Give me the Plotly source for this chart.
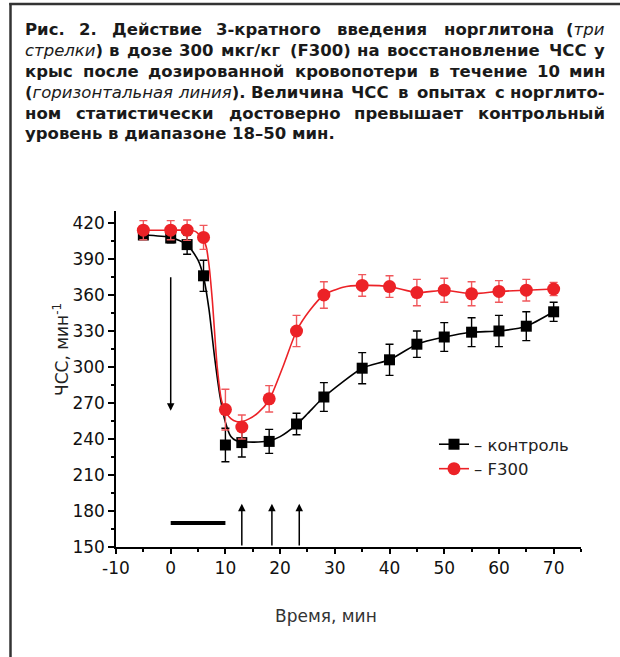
import plotly.graph_objects as go

# ---------------- data ----------------
time_min = [-5, 0, 3, 6, 10, 13, 18, 23, 28, 35, 40, 45, 50, 55, 60, 65, 70]
control_hr = [410, 407.5, 402, 376, 235, 237, 238, 252.5, 275, 299, 306, 319, 325, 329, 330, 334, 346]
control_sem = [3.5, 4, 8, 13, 14, 12, 10, 9, 12, 13, 13, 11, 12, 12, 13, 12, 8]
f300_hr = [414, 414, 414, 408, 264.5, 250, 273.5, 330, 360, 368, 367, 362, 364, 361, 363, 364, 365]
f300_sem = [8, 8, 8.5, 10, 17, 10, 11, 13, 11, 9, 9, 11, 10, 10, 9, 9, 5.5]

# fitted curves as drawn in the picture
fit_control_x = [-5, 0, 3, 5, 6, 7, 8, 9, 10, 11, 12, 14, 16, 18, 20, 23, 25, 28, 35, 40, 45, 50, 55, 60, 65, 70]
fit_control_y = [410, 408, 402, 389, 375, 348, 309, 276, 254, 242, 238.5, 237.5, 237.5, 238.5, 242, 252, 261, 275,
                 299, 306, 319, 325, 329, 330, 334, 346]
fit_f300_x = [-5, 0, 3, 4.5, 6, 6.5, 7, 7.6, 8.5, 9.3, 10.2, 11, 12, 13, 14.4, 16, 18, 20.5, 23, 25.4, 28, 31.5,
              35, 40, 45, 50, 55, 60, 65, 70]
fit_f300_y = [414, 414, 414, 413, 406, 400, 385, 356, 300, 272, 261.5, 257, 254.5, 254.5, 257, 262, 272.5, 300,
              330, 347, 360, 366.5, 368, 367, 362, 364, 361, 363, 364, 365]

injection_times = [13, 18.5, 23.5]          # three arrows (norglitone injections)
blood_loss_interval = [0, 10]               # horizontal line (dosed blood loss)
blood_loss_arrow = [376, 263.5]             # downward arrow at t = 0 (from, to)

x_tick_vals = [-10, 0, 10, 20, 30, 40, 50, 60, 70]
x_tick_labels = ["-10", "0", "10", "20", "30", "40", "50", "60", "70"]
y_tick_vals = [150, 180, 210, 240, 270, 300, 330, 360, 390, 420]

series_names = ["– контроль", "– F300"]

# ---------------- layout geometry ----------------
W, H = 620, 657
ML, MR, MT, MB = 116, 39, 211, 110
PW = W - ML - MR
PH = H - MT - MB


def px(xp):
    return (xp - ML) / PW


def py(yp):
    return (H - MB - yp) / PH


RED = "#ec2227"
RED_ERR = "#f0585c"
FONT = "DejaVu Sans"

fig = go.Figure()

fig.add_trace(go.Scatter(x=fit_control_x, y=fit_control_y, mode="lines",
                         line=dict(color="black", width=1.6, shape="spline", smoothing=0.6),
                         showlegend=False, hoverinfo="skip"))
fig.add_trace(go.Scatter(x=time_min, y=control_hr, mode="markers",
                         marker=dict(symbol="square", size=11, color="black"),
                         error_y=dict(type="data", array=control_sem, color="black", thickness=1.4, width=4),
                         showlegend=False))
fig.add_trace(go.Scatter(x=fit_f300_x, y=fit_f300_y, mode="lines",
                         line=dict(color=RED, width=1.6, shape="spline", smoothing=0.6),
                         showlegend=False, hoverinfo="skip"))
fig.add_trace(go.Scatter(x=time_min, y=f300_hr, mode="markers",
                         marker=dict(symbol="circle", size=13, color=RED),
                         error_y=dict(type="data", array=f300_sem, color=RED_ERR, thickness=1.4, width=4),
                         showlegend=False))

# legend-only traces
fig.add_trace(go.Scatter(x=[None], y=[None], mode="lines+markers", name=series_names[0],
                         line=dict(color="black", width=1.6), marker=dict(symbol="square", size=11, color="black")))
fig.add_trace(go.Scatter(x=[None], y=[None], mode="lines+markers", name=series_names[1],
                         line=dict(color=RED, width=1.6), marker=dict(symbol="circle", size=13, color=RED)))

annotations = []
# arrows
for t in injection_times:
    annotations.append(dict(x=t, y=186, ax=t, ay=150, xref="x", yref="y", axref="x", ayref="y",
                            showarrow=True, arrowhead=2, arrowsize=1, arrowwidth=1.5, arrowcolor="black", text=""))
annotations.append(dict(x=0, y=blood_loss_arrow[1], ax=0, ay=blood_loss_arrow[0], xref="x", yref="y",
                        axref="x", ayref="y", showarrow=True, arrowhead=2, arrowsize=1, arrowwidth=1.5,
                        arrowcolor="black", text=""))

# axis titles
annotations.append(dict(x=px(326), y=py(616), xref="paper", yref="paper", text="Время, мин", showarrow=False,
                        font=dict(family=FONT, size=17, color="#333"), xanchor="center", yanchor="middle"))
annotations.append(dict(x=px(61), y=py(350), xref="paper", yref="paper", text="ЧСС, мин<sup>-1</sup>",
                        showarrow=False, textangle=-90, font=dict(family=FONT, size=17, color="#222"),
                        xanchor="center", yanchor="middle"))

# ---------------- caption (justified) ----------------
BOLD_W = {'а': .675, 'б': .69, 'в': .69, 'г': .54, 'д': .75, 'е': .678, 'ж': 1.0, 'з': .60, 'и': .712, 'й': .712,
          'к': .70, 'л': .71, 'м': .87, 'н': .712, 'о': .687, 'п': .712, 'р': .716, 'с': .595, 'т': .60, 'у': .65,
          'ф': 1.0, 'х': .65, 'ц': .73, 'ч': .68, 'ш': 1.0, 'щ': 1.03, 'ы': .94, 'ь': .66, 'э': .6, 'ю': .98, 'я': .69,
          'Р': .733, 'Д': .82, 'Ч': .84, 'С': .78, 'В': .762, 'F': .632, ' ': .348, '.': .381, ',': .381, '-': .416,
          '(': .457, ')': .457, '/': .366, '–': .5}
REG_W = {'а': .613, 'г': .49, 'и': .634, 'з': .53, 'н': .634, 'т': .55, 'л': .63, 'я': .60, 'ь': .59, 'к': .579,
         'р': .635, 'с': .55, 'е': .615, 'о': .612, ' ': .318}

FS = 16.5


def seg_width(text, style):
    tbl = BOLD_W if style == 'b' else REG_W
    dflt = .69 if style == 'b' else .61
    return sum(tbl.get(ch, .696 if ch.isdigit() else dflt) for ch in text) * FS


def word_html(word):
    if isinstance(word, str):
        word = [(word, 'b')]
    html = ""
    w = 0
    for text, style in word:
        html += ("<b>%s</b>" % text) if style == 'b' else ("<i>%s</i>" % text)
        w += seg_width(text, style)
    return html, w


caption_lines = [
    ["Рис.", "2.", "Действие", "3-кратного", "введения", "норглитона", [("(", 'b'), ("три", 'i')]],
    [[("стрелки", 'i'), (")", 'b')], "в", "дозе", "300", "мкг/кг", "(F300)", "на", "восстановление", "ЧСС", "у"],
    ["крыс", "после", "дозированной", "кровопотери", "в", "течение", "10", "мин"],
    [[("(", 'b'), ("горизонтальная", 'i')], [("линия", 'i'), (").", 'b')], "Величина", "ЧСС", "в", "опытах", "с",
     "норглито-"],
    ["ном", "статистически", "достоверно", "превышает", "контрольный"],
]
caption_last = "уровень в диапазоне 18–50 мин."

TX_L, TX_R = 24, 606
line_y0, line_dy = 30, 20.8
for i, words in enumerate(caption_lines):
    items = [word_html(w) for w in words]
    total = sum(w for _, w in items)
    gap = (TX_R - TX_L - total) / (len(items) - 1)
    x = TX_L
    for k, (html, w) in enumerate(items):
        last = k == len(items) - 1
        annotations.append(dict(x=px(TX_R if last else x), y=py(line_y0 + i * line_dy), xref="paper",
                                yref="paper", text=html, showarrow=False,
                                xanchor="right" if last else "left", yanchor="middle", borderpad=0,
                                font=dict(family=FONT, size=FS, color="#1a1a1a")))
        x += w + gap
annotations.append(dict(x=px(TX_L), y=py(line_y0 + 5 * line_dy), xref="paper", yref="paper",
                        text="<b>%s</b>" % caption_last, showarrow=False, xanchor="left", yanchor="middle",
                        borderpad=0, font=dict(family=FONT, size=FS, color="#1a1a1a")))

shapes = [
    # blood-loss bar
    dict(type="line", xref="x", yref="y", x0=blood_loss_interval[0], x1=blood_loss_interval[1], y0=170, y1=170,
         line=dict(color="black", width=4)),
    # frame
    dict(type="line", xref="paper", yref="paper", x0=px(10.5), x1=px(10.5), y0=py(H + 5), y1=py(3),
         line=dict(color="#333", width=2.5)),
    dict(type="line", xref="paper", yref="paper", x0=px(9.3), x1=px(W + 5), y0=py(4), y1=py(4),
         line=dict(color="#333", width=2.5)),
]

axis_common = dict(showline=True, linecolor="black", linewidth=1.5, ticks="outside", tickwidth=1.5,
                   tickcolor="black", showgrid=False, zeroline=False,
                   tickfont=dict(family=FONT, size=17, color="#111"))

fig.update_layout(
    width=W, height=H, margin=dict(l=ML, r=MR, t=MT, b=MB, autoexpand=False),
    paper_bgcolor="white", plot_bgcolor="white",
    xaxis=dict(range=[-10, 75], tickvals=x_tick_vals, ticktext=x_tick_labels, ticklen=5,
               minor=dict(tick0=-10, dtick=5, ticks="outside", ticklen=3, tickwidth=1.5, tickcolor="black"),
               **axis_common),
    yaxis=dict(range=[150, 430], tickvals=y_tick_vals, ticklen=6,
               minor=dict(tick0=150, dtick=15, ticks="outside", ticklen=3, tickwidth=1.5, tickcolor="black"),
               **axis_common),
    showlegend=True,
    legend=dict(x=px(434), y=py(427), xanchor="left", yanchor="top", bgcolor="rgba(0,0,0,0)",
                font=dict(family=FONT, size=16.5, color="#222"), tracegroupgap=0),
    annotations=annotations,
    shapes=shapes,
)

fig.write_html("out.html")
